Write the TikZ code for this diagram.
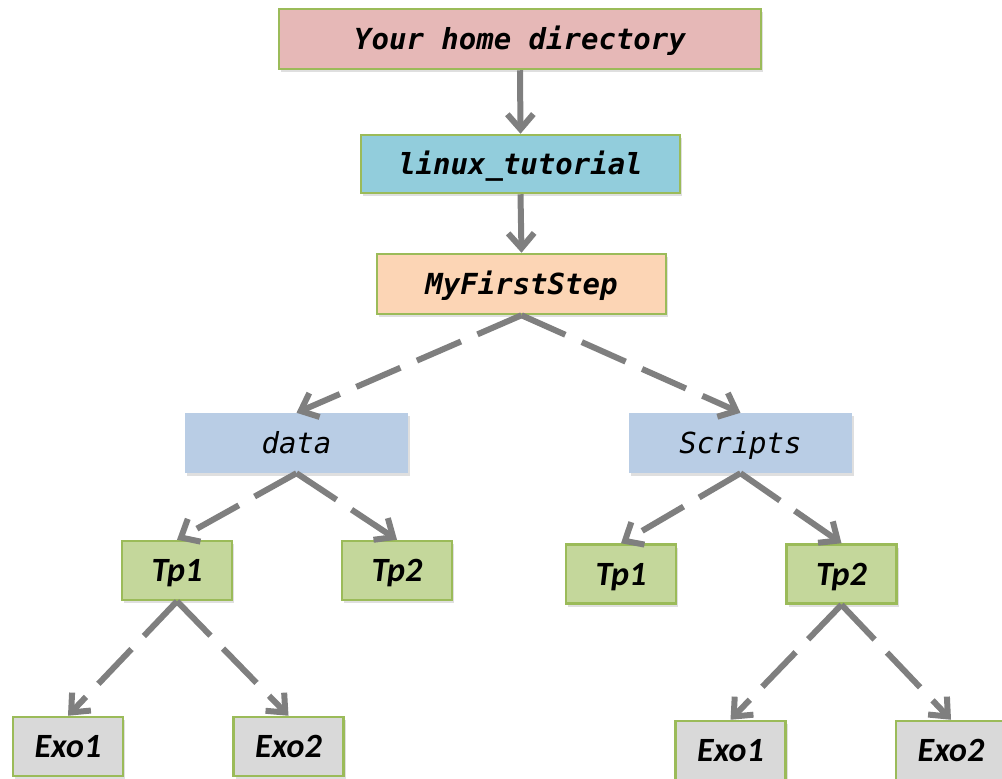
\documentclass[tikz,border=0pt]{standalone}
\usepackage{fontspec}
\newfontfamily\codefont{DejaVu Sans Mono}
\newfontfamily\labelfont{Carlito}
\usetikzlibrary{arrows.meta,shadows}

\definecolor{edgegreen}{HTML}{9BBB59}
\definecolor{homefill}{HTML}{E6B8B7}
\definecolor{linuxfill}{HTML}{92CDDC}
\definecolor{stepfill}{HTML}{FCD5B5}
\definecolor{dirfill}{HTML}{B9CDE5}
\definecolor{tpfill}{HTML}{C4D79B}
\definecolor{exofill}{HTML}{D9D9D9}
\definecolor{arrowgray}{HTML}{7F7F7F}

\tikzset{
  folder/.style={draw=edgegreen, line width=2.5pt, inner sep=0pt,
    drop shadow={shadow xshift=2pt, shadow yshift=-3pt, opacity=0.25}},
  plainfolder/.style={draw=none, inner sep=0pt,
    drop shadow={shadow xshift=2pt, shadow yshift=-3pt, opacity=0.25}},
  codetext/.style={font=\codefont\bfseries\itshape\fontsize{29}{30}\selectfont,
    text height=21pt, text depth=0pt},
  lightcodetext/.style={font=\codefont\itshape\fontsize{29}{30}\selectfont,
    text height=21pt, text depth=0pt},
  labeltext/.style={font=\labelfont\bfseries\itshape\fontsize{34}{35}\selectfont,
    text height=22pt, text depth=0pt},
  smallbox/.style={folder, labeltext, minimum width=110pt, minimum height=59pt},
  link/.style={draw=arrowgray, line width=6pt,
    -{Straight Barb[length=15pt,width=26pt]}},
  dlink/.style={link, dash pattern=on 48pt off 18pt},
}

\begin{document}
\begin{tikzpicture}[x=1pt, y=-1pt]
\clip (0,0) rectangle (1002,779);

% top of the hierarchy
\node[folder, codetext, fill=homefill, minimum width=482pt, minimum height=60pt]
  (home) at (520,39) {Your home directory};
\node[folder, codetext, fill=linuxfill, minimum width=319pt, minimum height=58pt]
  (linux) at (520.5,164) {linux\_tutorial};
\node[folder, codetext, fill=stepfill, minimum width=289pt, minimum height=60pt]
  (mfs) at (521.5,284) {MyFirstStep};

% second level
\node[plainfolder, lightcodetext, fill=dirfill, minimum width=223pt, minimum height=60pt]
  (data) at (296.5,443) {data};
\node[plainfolder, lightcodetext, fill=dirfill, minimum width=223pt, minimum height=60pt]
  (scripts) at (740.5,443) {Scripts};

% third level
\node[smallbox, fill=tpfill] (dtpa) at (177,570.5) {Tp1};
\node[smallbox, fill=tpfill] (dtpb) at (397,570.5) {Tp2};
\node[smallbox, fill=tpfill] (stpa) at (621,574) {Tp1};
\node[smallbox, fill=tpfill] (stpb) at (841.5,574) {Tp2};

% leaves
\node[smallbox, fill=exofill] (dexa) at (68,746.5) {Exo1};
\node[smallbox, fill=exofill] (dexb) at (288.5,746.5) {Exo2};
\node[smallbox, fill=exofill] (sexa) at (730.5,750.5) {Exo1};
\node[smallbox, fill=exofill] (sexb) at (951,750.5) {Exo2};

% connectors
\draw[link] (home.south) -- (linux.north);
\draw[link] (linux.south) -- (mfs.north);
\draw[dlink] (mfs.south) -- (data.north);
\draw[dlink] (mfs.south) -- (scripts.north);
\draw[dlink] (data.south) -- (dtpa.north);
\draw[dlink] (data.south) -- (dtpb.north);
\draw[dlink] (scripts.south) -- (stpa.north);
\draw[dlink] (scripts.south) -- (stpb.north);
\draw[dlink] (dtpa.south) -- (dexa.north);
\draw[dlink] (dtpa.south) -- (dexb.north);
\draw[dlink] (stpb.south) -- (sexa.north);
\draw[dlink] (stpb.south) -- (sexb.north);
\end{tikzpicture}
\end{document}
